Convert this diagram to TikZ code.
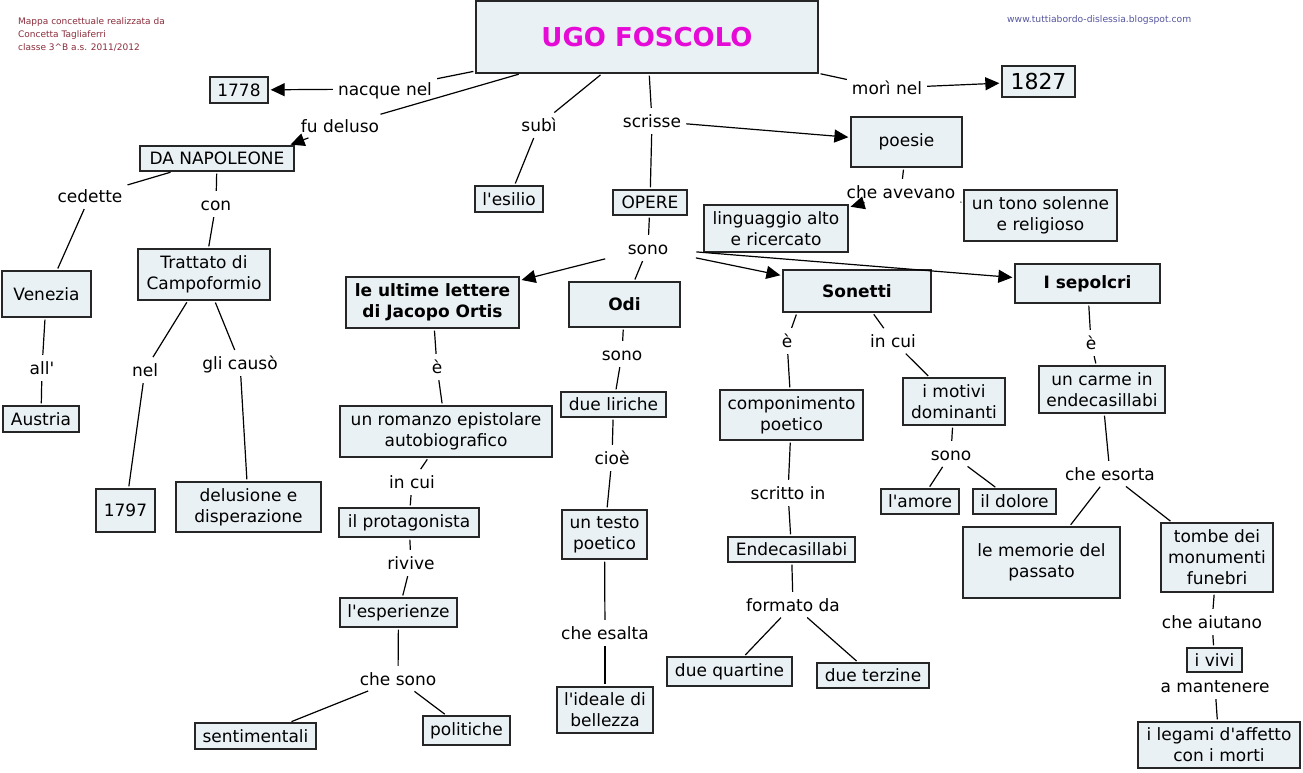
\documentclass[tikz,border=0pt]{standalone}
\usepackage{fontspec}
\setmainfont{DejaVu Sans}[Ligatures=TeXOff]
\usetikzlibrary{arrows.meta}
\definecolor{boxfill}{RGB}{234,241,244}
\definecolor{titlecol}{RGB}{230,10,215}
\definecolor{hdr}{RGB}{140,45,60}
\definecolor{urlcol}{RGB}{85,85,160}
\begin{document}
\begin{tikzpicture}[x=1pt,y=-1pt,
  box/.style={draw=black!85, fill=boxfill, line width=1.3pt, inner sep=2pt, align=center, font=\fontsize{17}{21}\selectfont},
  bbox/.style={box, font=\fontsize{17}{21}\selectfont\bfseries},
  lab/.style={inner sep=3pt, font=\fontsize{17}{21}\selectfont, text height=14pt, text depth=2pt},
  conn/.style={line width=1.2pt, shorten <=2pt, shorten >=2pt},
  arr/.style={conn, -{Triangle[length=14pt,width=13pt]}},
]
\useasboundingbox[fill=white] (0,0) rectangle (1303,772);

% header texts
\node[anchor=north west, align=left, inner sep=0, text=hdr, font=\fontsize{9}{13}\selectfont] (hdrtext) at (18,17) {Mappa concettuale realizzata da\\Concetta Tagliaferri\\classe 3\textasciicircum B a.s. 2011/2012};
\node[anchor=west, inner sep=0, text=urlcol, font=\fontsize{9.2}{11}\selectfont] (urltext) at (1007,20) {www.tuttiabordo-dislessia.blogspot.com};

% boxes
\node[box, minimum width=342pt, minimum height=72pt, font=\fontsize{26}{30}\selectfont\bfseries, text=titlecol] (title) at (647,37) {UGO FOSCOLO};
\node[box, minimum width=58pt, minimum height=26pt] (y1778) at (239,90) {1778};
\node[box, minimum width=73pt, minimum height=31pt, font=\fontsize{22}{26}\selectfont] (y1827) at (1038.5,81.5) {1827};
\node[box, minimum width=154pt, minimum height=25pt] (dn) at (217,158.5) {DA NAPOLEONE};
\node[box, minimum width=89pt, minimum height=46pt] (venezia) at (46.5,294) {Venezia};
\node[box, minimum width=76pt, minimum height=26pt] (austria) at (41,419) {Austria};
\node[box, minimum width=132pt, minimum height=51pt] (trattato) at (204,274.5) {Trattato di\\Campoformio};
\node[box, minimum width=59pt, minimum height=43pt] (y1797) at (125.5,510.5) {1797};
\node[box, minimum width=145pt, minimum height=50pt] (delusione) at (248.5,507) {delusione e\\disperazione};
\node[box, minimum width=68pt, minimum height=26pt] (esilio) at (509,199) {l'esilio};
\node[box, minimum width=74pt, minimum height=25pt] (opere) at (650,202.5) {OPERE};
\node[box, minimum width=111pt, minimum height=50pt] (poesie) at (906.5,142) {poesie};
\node[box, minimum width=144pt, minimum height=47pt] (linguaggio) at (776,228.5) {linguaggio alto\\e ricercato};
\node[box, minimum width=153pt, minimum height=51pt] (tono) at (1040.5,215.5) {un tono solenne\\e religioso};
\node[bbox, minimum width=173pt, minimum height=51pt] (lettere) at (432.5,302.5) {le ultime lettere\\di Jacopo Ortis};
\node[bbox, minimum width=111pt, minimum height=45pt] (odi) at (624.5,304.5) {Odi};
\node[bbox, minimum width=148pt, minimum height=42pt] (sonetti) at (857,291) {Sonetti};
\node[bbox, minimum width=145pt, minimum height=39pt] (sepolcri) at (1087.5,283.5) {I sepolcri};
\node[box, minimum width=212pt, minimum height=51pt] (romanzo) at (446,431.5) {un romanzo epistolare\\autobiografico};
\node[box, minimum width=140pt, minimum height=29pt] (protag) at (409,522.5) {il protagonista};
\node[box, minimum width=117pt, minimum height=29pt] (esper) at (398.5,612.5) {l'esperienze};
\node[box, minimum width=121pt, minimum height=26pt] (sentim) at (255.5,736) {sentimentali};
\node[box, minimum width=87pt, minimum height=29pt] (polit) at (466.5,730.5) {politiche};
\node[box, minimum width=105pt, minimum height=25pt] (liriche) at (613.5,404.5) {due liriche};
\node[box, minimum width=85pt, minimum height=49pt] (testo) at (604.5,534.5) {un testo\\poetico};
\node[box, minimum width=96pt, minimum height=46pt] (ideale) at (605,710) {l'ideale di\\bellezza};
\node[box, minimum width=143pt, minimum height=50pt] (compon) at (791.5,415) {componimento\\poetico};
\node[box, minimum width=127pt, minimum height=25pt] (endec) at (791.5,549.5) {Endecasillabi};
\node[box, minimum width=125pt, minimum height=29pt] (quartine) at (729.5,671.5) {due quartine};
\node[box, minimum width=112pt, minimum height=25pt] (terzine) at (873,675.5) {due terzine};
\node[box, minimum width=102pt, minimum height=47pt] (motivi) at (954,401.5) {i motivi\\dominanti};
\node[box, minimum width=78pt, minimum height=25pt] (amore) at (920,501.5) {l'amore};
\node[box, minimum width=83pt, minimum height=25pt] (dolore) at (1014.5,501.5) {il dolore};
\node[box, minimum width=126pt, minimum height=47pt] (carme) at (1102,389.5) {un carme in\\endecasillabi};
\node[box, minimum width=157pt, minimum height=71pt] (memorie) at (1041.5,562.5) {le memorie del\\passato};
\node[box, minimum width=112pt, minimum height=69pt] (tombe) at (1217,557.5) {tombe dei\\monumenti\\funebri};
\node[box, minimum width=55pt, minimum height=24pt] (vivi) at (1214.5,660) {i vivi};
\node[box, minimum width=162pt, minimum height=46pt] (legami) at (1219,745) {i legami d'affetto\\con i morti};

% linking phrases
\node[lab] (nacque) at (385,89) {nacque nel};
\node[lab] (fudel) at (340,126) {fu deluso};
\node[lab] (cedette) at (90,196) {cedette};
\node[lab] (con) at (216,204) {con};
\node[lab] (all) at (42,368) {all'};
\node[lab] (nel) at (145,370) {nel};
\node[lab] (glic) at (240,363) {gli causò};
\node[lab] (subi) at (539,125) {subì};
\node[lab] (scrisse) at (652,121) {scrisse};
\node[lab] (mori) at (887,88) {morì nel};
\node[lab] (avevano) at (901,192) {che avevano};
\node[lab] (sono1) at (648,248) {sono};
\node[lab] (e1) at (437,367) {è};
\node[lab] (incui1) at (412,482) {in cui};
\node[lab] (rivive) at (411,563) {rivive};
\node[lab] (chesono) at (398,679) {che sono};
\node[lab] (sono2) at (622,354) {sono};
\node[lab] (cioe) at (612,458) {cioè};
\node[lab] (esalta) at (605,633) {che esalta};
\node[lab] (e2) at (787,341) {è};
\node[lab] (scritto) at (788,493) {scritto in};
\node[lab] (formato) at (793,605) {formato da};
\node[lab] (incui2) at (893,341) {in cui};
\node[lab] (sono3) at (951,454) {sono};
\node[lab] (e3) at (1091,343) {è};
\node[lab] (esorta) at (1110,474) {che esorta};
\node[lab] (aiutano) at (1212,622) {che aiutano};
\node[lab] (mantenere) at (1215,686) {a mantenere};

% connectors
\draw[conn] (title) -- (nacque);
\draw[arr] (nacque) -- (y1778);
\draw[conn] (title) -- (fudel);
\draw[arr] (fudel) -- ([xshift=-6pt]dn.north east);
\draw[conn] (dn) -- (cedette);
\draw[conn] (cedette) -- (venezia);
\draw[conn] (dn) -- (con);
\draw[conn] (con) -- (trattato);
\draw[conn] (venezia) -- (all);
\draw[conn] (all) -- (austria);
\draw[conn] (trattato) -- (nel);
\draw[conn] (nel) -- (y1797);
\draw[conn] (trattato) -- (glic);
\draw[conn] (glic) -- (delusione);
\draw[conn] (title) -- (subi);
\draw[conn] (subi) -- (esilio);
\draw[conn] (title) -- (scrisse);
\draw[arr] (scrisse) -- (poesie);
\draw[conn] (scrisse) -- (opere);
\draw[conn] (title) -- (mori);
\draw[arr] (mori) -- (y1827);
\draw[conn] (poesie) -- (avevano);
\draw[arr] (avevano) -- (linguaggio);
\draw[conn] (avevano) -- (tono);
\draw[conn] (opere) -- (sono1);
\draw[arr, shorten <=20pt] (sono1) -- (lettere);
\draw[conn] (sono1) -- (odi);
\draw[arr, shorten <=25pt] (sono1) -- (sonetti);
\draw[arr, shorten <=25pt] (sono1) -- (sepolcri);

\draw[conn] (lettere) -- (e1);
\draw[conn] (e1) -- (romanzo);
\draw[conn] (romanzo) -- (incui1);
\draw[conn] (incui1) -- (protag);
\draw[conn] (protag) -- (rivive);
\draw[conn] (rivive) -- (esper);
\draw[conn] (esper) -- (chesono);
\draw[conn] (chesono) -- (sentim);
\draw[conn] (chesono) -- (polit);

\draw[conn] (odi) -- (sono2);
\draw[conn] (sono2) -- (liriche);
\draw[conn] (liriche) -- (cioe);
\draw[conn] (cioe) -- (testo);
\draw[conn] (testo) -- (esalta);
\draw[conn] (esalta) -- (ideale);

\draw[conn] ([xshift=-60pt]sonetti.south) -- (e2);
\draw[conn] (e2) -- (compon);
\draw[conn] (compon) -- (scritto);
\draw[conn] (scritto) -- (endec);
\draw[conn] (endec) -- (formato);
\draw[conn] (formato) -- (quartine);
\draw[conn] (formato) -- (terzine);
\draw[conn] (sonetti) -- (incui2);
\draw[conn] (incui2) -- (motivi);
\draw[conn] (motivi) -- (sono3);
\draw[conn] (sono3) -- (amore);
\draw[conn] (sono3) -- (dolore);

\draw[conn] (sepolcri) -- (e3);
\draw[conn] (e3) -- (carme);
\draw[conn] (carme) -- (esorta);
\draw[conn] (esorta) -- (memorie);
\draw[conn] (esorta) -- (tombe);
\draw[conn] (tombe) -- (aiutano);
\draw[conn] (aiutano) -- (vivi);
\draw[conn] (mantenere) -- (legami);
\end{tikzpicture}
\end{document}
